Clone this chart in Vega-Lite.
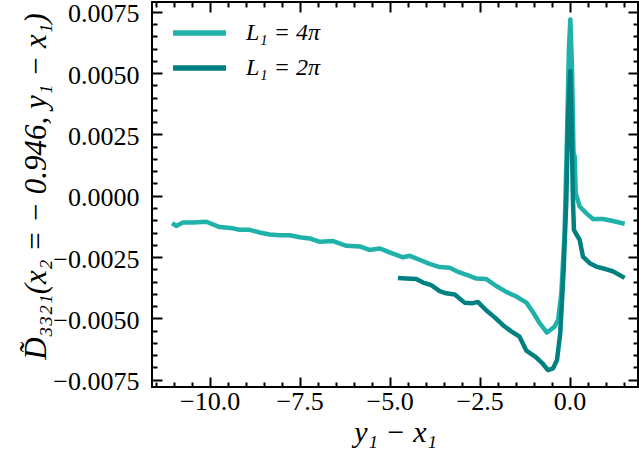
{
  "$schema": "https://vega.github.io/schema/vega-lite/v6.json",
  "width": 486,
  "height": 385,
  "autosize": {"type": "none"},
  "padding": {"left": 152, "top": 2, "right": 1, "bottom": 76},
  "background": "white",
  "config": {
    "view": {"stroke": "black", "strokeWidth": 2},
    "font": "Liberation Serif",
    "axis": {
      "domain": false,
      "grid": false,
      "tickColor": "black",
      "tickWidth": 2,
      "labelFont": "Liberation Serif",
      "labelFontSize": 26,
      "labelColor": "black",
      "titleFont": "Liberation Serif",
      "titleColor": "black",
      "titleFontWeight": "normal"
    },
    "legend": {
      "labelFont": "Liberation Serif",
      "labelFontSize": 24,
      "labelColor": "black"
    }
  },
  "data": {
    "values": [
      {"x": -11.04, "y": -0.00112, "s": "L₁ = 4π"},
      {"x": -10.93, "y": -0.00123, "s": "L₁ = 4π"},
      {"x": -10.74, "y": -0.00109, "s": "L₁ = 4π"},
      {"x": -10.46, "y": -0.00109, "s": "L₁ = 4π"},
      {"x": -10.09, "y": -0.00106, "s": "L₁ = 4π"},
      {"x": -9.72, "y": -0.00128, "s": "L₁ = 4π"},
      {"x": -9.35, "y": -0.00133, "s": "L₁ = 4π"},
      {"x": -9.17, "y": -0.00139, "s": "L₁ = 4π"},
      {"x": -8.89, "y": -0.00139, "s": "L₁ = 4π"},
      {"x": -8.61, "y": -0.0015, "s": "L₁ = 4π"},
      {"x": -8.33, "y": -0.00158, "s": "L₁ = 4π"},
      {"x": -8.06, "y": -0.00161, "s": "L₁ = 4π"},
      {"x": -7.78, "y": -0.00161, "s": "L₁ = 4π"},
      {"x": -7.5, "y": -0.00169, "s": "L₁ = 4π"},
      {"x": -7.22, "y": -0.00174, "s": "L₁ = 4π"},
      {"x": -6.94, "y": -0.00188, "s": "L₁ = 4π"},
      {"x": -6.57, "y": -0.00185, "s": "L₁ = 4π"},
      {"x": -6.2, "y": -0.00204, "s": "L₁ = 4π"},
      {"x": -5.83, "y": -0.00207, "s": "L₁ = 4π"},
      {"x": -5.56, "y": -0.00221, "s": "L₁ = 4π"},
      {"x": -5.28, "y": -0.00215, "s": "L₁ = 4π"},
      {"x": -5.0, "y": -0.00231, "s": "L₁ = 4π"},
      {"x": -4.63, "y": -0.00251, "s": "L₁ = 4π"},
      {"x": -4.44, "y": -0.00245, "s": "L₁ = 4π"},
      {"x": -4.17, "y": -0.00261, "s": "L₁ = 4π"},
      {"x": -3.89, "y": -0.00278, "s": "L₁ = 4π"},
      {"x": -3.61, "y": -0.00291, "s": "L₁ = 4π"},
      {"x": -3.33, "y": -0.00294, "s": "L₁ = 4π"},
      {"x": -3.06, "y": -0.00313, "s": "L₁ = 4π"},
      {"x": -2.78, "y": -0.00327, "s": "L₁ = 4π"},
      {"x": -2.59, "y": -0.00338, "s": "L₁ = 4π"},
      {"x": -2.31, "y": -0.0034, "s": "L₁ = 4π"},
      {"x": -2.04, "y": -0.00368, "s": "L₁ = 4π"},
      {"x": -1.76, "y": -0.00392, "s": "L₁ = 4π"},
      {"x": -1.48, "y": -0.00411, "s": "L₁ = 4π"},
      {"x": -1.2, "y": -0.00436, "s": "L₁ = 4π"},
      {"x": -1.02, "y": -0.00474, "s": "L₁ = 4π"},
      {"x": -0.83, "y": -0.0052, "s": "L₁ = 4π"},
      {"x": -0.63, "y": -0.00558, "s": "L₁ = 4π"},
      {"x": -0.42, "y": -0.00534, "s": "L₁ = 4π"},
      {"x": -0.32, "y": -0.00507, "s": "L₁ = 4π"},
      {"x": -0.23, "y": -0.00398, "s": "L₁ = 4π"},
      {"x": -0.14, "y": -0.00152, "s": "L₁ = 4π"},
      {"x": -0.07, "y": 0.00256, "s": "L₁ = 4π"},
      {"x": -0.02, "y": 0.00596, "s": "L₁ = 4π"},
      {"x": 0.02, "y": 0.00719, "s": "L₁ = 4π"},
      {"x": 0.065, "y": 0.00528, "s": "L₁ = 4π"},
      {"x": 0.11, "y": 0.00174, "s": "L₁ = 4π"},
      {"x": 0.14, "y": 0.00161, "s": "L₁ = 4π"},
      {"x": 0.17, "y": 0.00011, "s": "L₁ = 4π"},
      {"x": 0.28, "y": -0.00044, "s": "L₁ = 4π"},
      {"x": 0.46, "y": -0.00071, "s": "L₁ = 4π"},
      {"x": 0.65, "y": -0.00095, "s": "L₁ = 4π"},
      {"x": 0.93, "y": -0.00095, "s": "L₁ = 4π"},
      {"x": 1.2, "y": -0.00103, "s": "L₁ = 4π"},
      {"x": 1.53, "y": -0.00114, "s": "L₁ = 4π"},
      {"x": -4.77, "y": -0.00336, "s": "L₁ = 2π"},
      {"x": -4.54, "y": -0.00338, "s": "L₁ = 2π"},
      {"x": -4.26, "y": -0.0034, "s": "L₁ = 2π"},
      {"x": -4.07, "y": -0.00354, "s": "L₁ = 2π"},
      {"x": -3.84, "y": -0.00365, "s": "L₁ = 2π"},
      {"x": -3.61, "y": -0.00389, "s": "L₁ = 2π"},
      {"x": -3.43, "y": -0.00398, "s": "L₁ = 2π"},
      {"x": -3.19, "y": -0.00403, "s": "L₁ = 2π"},
      {"x": -2.92, "y": -0.00436, "s": "L₁ = 2π"},
      {"x": -2.69, "y": -0.00438, "s": "L₁ = 2π"},
      {"x": -2.55, "y": -0.00433, "s": "L₁ = 2π"},
      {"x": -2.31, "y": -0.00468, "s": "L₁ = 2π"},
      {"x": -2.08, "y": -0.00496, "s": "L₁ = 2π"},
      {"x": -1.85, "y": -0.00528, "s": "L₁ = 2π"},
      {"x": -1.62, "y": -0.00553, "s": "L₁ = 2π"},
      {"x": -1.39, "y": -0.00575, "s": "L₁ = 2π"},
      {"x": -1.2, "y": -0.00632, "s": "L₁ = 2π"},
      {"x": -0.93, "y": -0.00659, "s": "L₁ = 2π"},
      {"x": -0.74, "y": -0.00686, "s": "L₁ = 2π"},
      {"x": -0.6, "y": -0.00711, "s": "L₁ = 2π"},
      {"x": -0.46, "y": -0.00704, "s": "L₁ = 2π"},
      {"x": -0.35, "y": -0.0067, "s": "L₁ = 2π"},
      {"x": -0.26, "y": -0.00561, "s": "L₁ = 2π"},
      {"x": -0.17, "y": -0.00316, "s": "L₁ = 2π"},
      {"x": -0.09, "y": -0.00016, "s": "L₁ = 2π"},
      {"x": -0.04, "y": 0.00324, "s": "L₁ = 2π"},
      {"x": 0.02, "y": 0.00508, "s": "L₁ = 2π"},
      {"x": 0.06, "y": 0.00256, "s": "L₁ = 2π"},
      {"x": 0.09, "y": -0.00003, "s": "L₁ = 2π"},
      {"x": 0.12, "y": -0.00139, "s": "L₁ = 2π"},
      {"x": 0.16, "y": -0.0015, "s": "L₁ = 2π"},
      {"x": 0.28, "y": -0.0018, "s": "L₁ = 2π"},
      {"x": 0.37, "y": -0.00248, "s": "L₁ = 2π"},
      {"x": 0.56, "y": -0.00275, "s": "L₁ = 2π"},
      {"x": 0.74, "y": -0.00289, "s": "L₁ = 2π"},
      {"x": 1.02, "y": -0.003, "s": "L₁ = 2π"},
      {"x": 1.2, "y": -0.00308, "s": "L₁ = 2π"},
      {"x": 1.53, "y": -0.00335, "s": "L₁ = 2π"}
    ]
  },
  "layer": [
    {
      "mark": {"type": "line", "strokeWidth": 4.5, "strokeJoin": "round", "strokeCap": "butt"},
      "encoding": {
        "x": {
          "field": "x", "type": "quantitative",
          "scale": {"domain": [-11.6, 1.9], "nice": false, "zero": false},
          "axis": {
            "orient": "bottom",
            "title": "y₁ − x₁",
            "titleFontSize": 30,
            "titleFontStyle": "italic",
            "titlePadding": 3,
            "values": [-11.5, -11, -10.5, -10, -9.5, -9, -8.5, -8, -7.5, -7, -6.5, -6, -5.5, -5, -4.5, -4, -3.5, -3, -2.5, -2, -1.5, -1, -0.5, 0, 0.5, 1, 1.5],
            "format": ".1f",
            "labelExpr": "abs(datum.value/2.5 - round(datum.value/2.5)) < 0.001 ? datum.label : ''",
            "tickSize": {"condition": {"test": "abs(datum.value/2.5 - round(datum.value/2.5)) < 0.001", "value": -10}, "value": -5},
            "labelPadding": 11
          }
        },
        "y": {
          "field": "y", "type": "quantitative",
          "scale": {"domain": [-0.0078, 0.0079], "nice": false, "zero": false},
          "axis": {
            "orient": "left",
            "title": "D̃₃₃₂₁(x₂ = − 0.946, y₁ − x₁)",
            "titleFontSize": 31,
            "titleFontStyle": "italic",
            "titlePadding": 0,
            "titleY": 184,
            "values": [-0.0075, -0.007, -0.0065, -0.006, -0.0055, -0.005, -0.0045, -0.004, -0.0035, -0.003, -0.0025, -0.002, -0.0015, -0.001, -0.0005, 0, 0.0005, 0.001, 0.0015, 0.002, 0.0025, 0.003, 0.0035, 0.004, 0.0045, 0.005, 0.0055, 0.006, 0.0065, 0.007, 0.0075],
            "format": ".4f",
            "labelExpr": "abs(datum.value/0.0025 - round(datum.value/0.0025)) < 0.001 ? datum.label : ''",
            "tickSize": {"condition": {"test": "abs(datum.value/0.0025 - round(datum.value/0.0025)) < 0.001", "value": -10}, "value": -5},
            "labelPadding": 23,
            "labelOffset": 2
          }
        },
        "color": {
          "field": "s", "type": "nominal",
          "scale": {"domain": ["L₁ = 4π", "L₁ = 2π"], "range": ["#20b2aa", "#008080"]},
          "legend": {
            "title": null,
            "orient": "none",
            "legendX": 18,
            "legendY": 16,
            "padding": 0,
            "clipHeight": 30,
            "symbolType": "stroke",
            "symbolSize": 2800,
            "symbolStrokeWidth": 5.5,
            "labelOffset": 17,
            "rowPadding": 5,
            "labelFontStyle": "italic"
          }
        }
      }
    },
    {
      "mark": {"type": "line", "strokeOpacity": 0},
      "encoding": {
        "x": {
          "field": "x", "type": "quantitative",
          "axis": {
            "orient": "top",
            "title": null,
            "values": [-11.5, -11, -10.5, -10, -9.5, -9, -8.5, -8, -7.5, -7, -6.5, -6, -5.5, -5, -4.5, -4, -3.5, -3, -2.5, -2, -1.5, -1, -0.5, 0, 0.5, 1, 1.5],
            "labels": false,
            "tickSize": {"condition": {"test": "abs(datum.value/2.5 - round(datum.value/2.5)) < 0.001", "value": -10}, "value": -5}
          }
        },
        "y": {
          "field": "y", "type": "quantitative",
          "axis": {
            "orient": "right",
            "title": null,
            "values": [-0.0075, -0.007, -0.0065, -0.006, -0.0055, -0.005, -0.0045, -0.004, -0.0035, -0.003, -0.0025, -0.002, -0.0015, -0.001, -0.0005, 0, 0.0005, 0.001, 0.0015, 0.002, 0.0025, 0.003, 0.0035, 0.004, 0.0045, 0.005, 0.0055, 0.006, 0.0065, 0.007, 0.0075],
            "labels": false,
            "tickSize": {"condition": {"test": "abs(datum.value/0.0025 - round(datum.value/0.0025)) < 0.001", "value": -10}, "value": -5}
          }
        },
        "detail": {"field": "s", "type": "nominal"}
      }
    }
  ]
}
